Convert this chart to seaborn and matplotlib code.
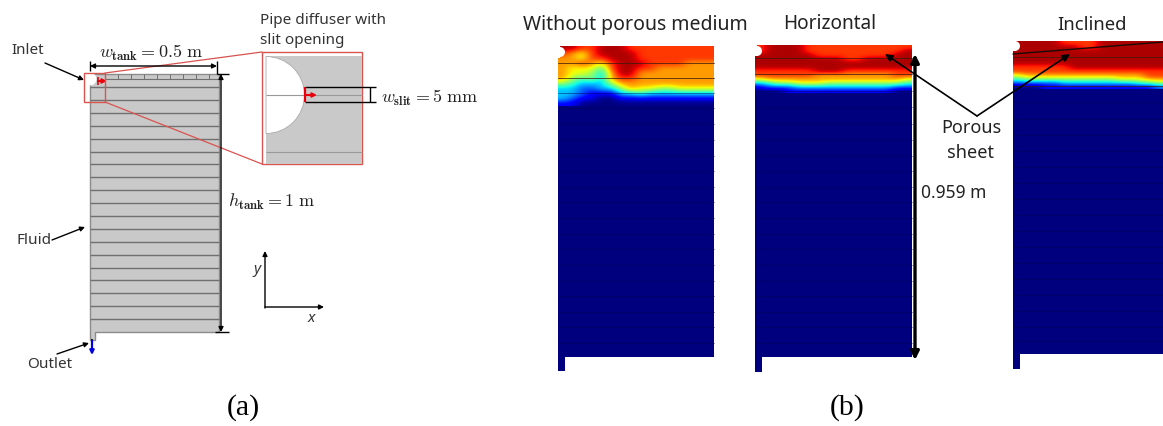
import numpy as np
import matplotlib
matplotlib.use('Agg')
import matplotlib.pyplot as plt
from matplotlib.patches import Polygon, Circle, Wedge, Rectangle
import seaborn as sns

# ---- data ----
# temperature level per cell (0 navy ... 9 dark red), one string per row
no_porous_top = [
    "9988999888888888", "8768999988888888", "7768899988888888", "7787689998888777",
    "7666489988777777", "7665379977777777", "7545378877777777", "5433357777777777",
    "3322335766556666", "3321113343333333", "3211001111111111", "1100000000000000",
]
horizontal_top = [
    "8999988888888888", "8999988888888889", "9999998888888899", "9999999998899999",
    "9999999999999999", "9999999999999999", "8888889998888888", "8888887777777788",
    "6777777777777776", "3455666555555554", "1222333333333322", "0001111111111100",
]
inclined_top = [
    "9999988889999999", "9999999889999999", "9999999999999999", "9999999999999999",
    "9999999999999999", "9999999999999999", "8888889999999999", "8888888888888888",
    "6777777777777788", "4555555555566677", "2222233333333445", "0001111111111112",
]
lower_level = [[0]]

fin_y_tank = [88, 101, 114, 127, 140, 153, 165, 178, 191, 204, 217, 230, 243, 256, 269, 281, 294, 307, 320]
cell_x_tank = [105, 118, 131, 144, 157, 170, 183, 196, 209]
fin_y_p1 = [64, 79, 94, 109, 125, 141, 157, 172, 188, 203, 219, 235, 250, 266, 282, 297, 313, 328, 344]
fin_y_p2 = [59, 75, 92, 108, 125, 141, 157, 172, 188, 203, 219, 235, 250, 266, 282, 297, 313, 328, 344]
fin_y_p3 = [58, 87, 103, 120, 136, 152, 168, 184, 200, 216, 232, 248, 264, 280, 296, 312, 328, 342]

W, H = 1163, 427
sns.set_theme(style='white')
plt.rcParams['font.family'] = ['Noto Sans', 'DejaVu Sans']
plt.rcParams['mathtext.fontset'] = 'cm'

fig = plt.figure(figsize=(W / 100, H / 100), dpi=100)


def heat(rows, x0, x1, y0, y1):
    a = fig.add_axes([x0 / W, 1 - y1 / H, (x1 - x0) / W, (y1 - y0) / H], zorder=1)
    sns.heatmap(rows, ax=a, cmap='jet', vmin=0, vmax=9.4, cbar=False,
                xticklabels=False, yticklabels=False)
    # same cells and colours, blurred like the source bitmap
    mesh = a.collections[0]
    n_rows, n_cols = np.shape(rows)
    a.imshow(rows, cmap=mesh.cmap, norm=mesh.norm, interpolation='bicubic', aspect='auto',
             extent=(0, n_cols, n_rows, 0), zorder=2)
    a.set_xlim(0, n_cols)
    a.set_ylim(n_rows, 0)
    return a


def parse(rows):
    return np.array([[int(c) for c in r] for r in rows])


# temperature panels: coloured top part plus navy lower part
heat(parse(no_porous_top), 558, 714, 47, 107)
heat(lower_level, 558, 714, 107, 358)
heat(parse(horizontal_top), 755, 912, 46, 94)
heat(lower_level, 755, 912, 94, 358)
heat(parse(inclined_top), 1013, 1163, 42, 90)
heat(lower_level, 1013, 1163, 90, 355)

# overlay in pixel coordinates
ax = fig.add_axes([0, 0, 1, 1], zorder=5)
ax.set_xlim(0, W)
ax.set_ylim(H, 0)
ax.axis('off')
ax.patch.set_alpha(0)


def arrow(x0, y0, x1, y1, color='black', lw=1.0, style='-|>', scale=7):
    ax.annotate('', xy=(x1, y1), xytext=(x0, y0),
                arrowprops=dict(arrowstyle=style, color=color, lw=lw, mutation_scale=scale,
                                shrinkA=0, shrinkB=0))


def label(x, y, s, size=10, ha='left', color='#333333', **kw):
    ax.text(x, y, s, fontsize=size, ha=ha, va='center', color=color, **kw)


# ---- (a) tank schematic ----
GRAY = '#c9c9c9'
ax.add_patch(Polygon([(90, 75), (219, 75), (219, 333), (95, 333), (95, 341), (90, 341)],
                     closed=True, fc=GRAY, ec='#8c8c8c', lw=1.0))
ax.hlines(fin_y_tank, 90, 219, color='#707070', lw=1.0)
ax.hlines(80, 105, 219, color='#707070', lw=0.8)
ax.vlines(cell_x_tank, 75, 80, color='#707070', lw=0.7)
ax.add_patch(Circle((90, 80), 6.5, fc='white', ec='none', zorder=3))
ax.add_patch(Rectangle((84, 74), 21, 29, fc='none', ec='#d9534f', lw=1.0, zorder=4))
ax.plot([105, 262], [74, 53], color='#d9534f', lw=0.9)
ax.plot([105, 262], [103, 165], color='#d9534f', lw=0.9)
ax.vlines(98, 78, 86, color='#e8000b', lw=1.2, zorder=5)
arrow(98, 82, 107, 82, color='#e8000b', lw=1.5, scale=6)

# zoomed inlet
ax.add_patch(Rectangle((262, 53), 100, 112, fc='white', ec='#d9534f', lw=1.0))
ax.add_patch(Rectangle((266, 57), 96, 108, fc=GRAY, ec='none'))
ax.add_patch(Wedge((266, 96), 38.5, -90, 90, fc='white', ec='#aaaaaa', lw=0.6))
ax.hlines([96, 153], 266, 362, color='#999999', lw=0.8)
ax.hlines([88, 103], 305, 376, color='black', lw=1.0)
ax.vlines(305, 88, 103, color='#e8000b', lw=1.6)
arrow(305, 96, 317, 96, color='#e8000b', lw=1.5, scale=6)
ax.vlines(370, 88, 103, color='black', lw=1.0)
label(381, 98, r'$w_{\mathbf{slit}}=5\ \mathrm{mm}$', size=13, color='#222222')
label(260, 20, 'Pipe diffuser with', size=11)
label(260, 41, 'slit opening', size=11)

# dimensions
arrow(90, 67, 217, 67, lw=1.0, style='<|-|>', scale=7)
ax.vlines(90, 62, 72, color='black', lw=1.0)
ax.vlines(217, 62, 75, color='black', lw=1.0)
label(99, 53, r'$w_{\mathbf{tank}}=0.5\ \mathrm{m}$', size=13, color='#222222')
arrow(221, 75, 221, 333, lw=1.0, style='<|-|>', scale=7)
ax.hlines(75, 217, 229, color='black', lw=1.0)
ax.hlines(333, 215, 229, color='black', lw=1.0)
label(228, 202, r'$h_{\mathbf{tank}}=1\ \mathrm{m}$', size=13, color='#222222')

# leaders
label(11, 50, 'Inlet', size=11)
arrow(45, 64, 84, 81)
label(16, 241, 'Fluid', size=11)
arrow(52, 241, 85, 228)
label(27, 365, 'Outlet', size=11)
arrow(57, 355, 89, 344)
ax.vlines(92, 340, 344, color='black', lw=1.2)
arrow(92, 342, 92, 356, color='#0000e0', lw=1.6, scale=6)

# x/y axes sign
arrow(265, 309, 265, 252, lw=1.0)
arrow(265, 308, 324, 308, lw=1.0)
label(253, 270, 'y', size=11, style='italic')
label(308, 319, 'x', size=11, style='italic')

# ---- (b) temperature fields ----
NAVY_LINE = '#00004f'
TOP_LINE = '#3a1a10'
for x0, x1, fins in [(558, 714, fin_y_p1), (755, 912, fin_y_p2), (1013, 1163, fin_y_p3)]:
    for y in fins:
        ax.plot([x0, x1], [y, y], color=TOP_LINE if y < 90 else NAVY_LINE, lw=0.7,
                alpha=0.75 if y < 90 else 0.45)

# pipe notch in each panel
for cx, cy, left, low, top in [(560, 53, 558, 60, 47), (757, 52, 755, 58, 46), (1015, 47, 1013, 53, 42)]:
    ax.add_patch(Rectangle((left - 1, top - 1), 3, low - top, fc='white', ec='none', zorder=3))
    ax.add_patch(Circle((cx, cy), 5, fc='white', ec='none', zorder=3))

# outlet stubs
for x0, y0, y1 in [(558, 358, 372), (755, 358, 373), (1013, 355, 370)]:
    ax.add_patch(Rectangle((x0, y0), 7, y1 - y0, fc='#00007f', ec='none'))

ax.plot([1013, 1163], [55, 43], color='#1a0a05', lw=1.0, zorder=4)

label(523, 25, 'Without porous medium', size=14, color='#222222')
label(783, 24, 'Horizontal', size=13.7, color='#222222')
label(1057, 25, 'Inclined', size=13.3, color='#222222')

arrow(915, 361, 915, 55, lw=2.4, style='<|-|>', scale=12)
label(921, 193, '0.959 m', size=12.5, color='#222222')
arrow(977, 117, 885, 55, lw=1.2, scale=11)
arrow(977, 117, 1070, 55, lw=1.2, scale=11)
label(971, 128, 'Porous', size=13, ha='center', color='#222222')
label(971, 153, 'sheet', size=13, ha='center', color='#222222')

# panel letters
label(243, 408, '(a)', size=21.5, ha='center', color='black', family='Liberation Serif')
label(847, 408, '(b)', size=21.5, ha='center', color='black', family='Liberation Serif')

fig.savefig('out.png', dpi=100)
